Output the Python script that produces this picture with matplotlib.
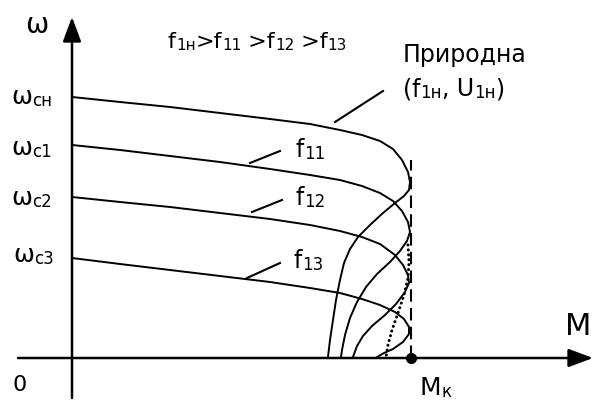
import matplotlib
matplotlib.use("Agg")
import matplotlib.pyplot as plt

plt.rcParams['font.family'] = ['DejaVu Sans']

# critical torque (same for every frequency)
M_k = 339

# mechanical characteristics, torque M vs speed w (arbitrary units)
w_1n = [261, 256, 251, 245, 239, 234, 228, 223, 217, 209, 198, 186, 176, 168,
        162, 155, 145, 133, 121, 109, 95, 78, 58, 38, 18, 1]
M_1n = [0, 48, 98, 148, 198, 238, 268, 290, 308, 321, 330, 336, 338, 337,
        332, 323, 311, 298, 286, 278, 272, 268, 264, 261, 258, 256]

w_11 = [213, 208, 202, 196, 189, 183, 178, 172, 165, 157, 147, 136, 126, 117,
        107, 96, 84, 71, 56, 40, 23, 8, 1]
M_11 = [0, 48, 98, 148, 198, 238, 268, 290, 308, 321, 330, 336, 338, 335,
        328, 318, 305, 294, 285, 278, 273, 270, 269]

w_12 = [161, 156, 151, 145, 139, 133, 127, 121, 114, 103, 93, 83, 75, 66,
        54, 43, 32, 22, 12, 1]
M_12 = [0, 48, 98, 148, 198, 238, 268, 290, 308, 323, 331, 336, 337, 333,
        324, 313, 300, 291, 285, 281]

w_13 = [100, 94, 88, 82, 76, 70, 65, 59, 53, 46, 39, 31, 24, 16, 9, 5, 1]
M_13 = [0, 48, 98, 148, 198, 238, 268, 290, 308, 323, 332, 337, 337, 331,
        321, 312, 305]

# low-frequency branch without compensation (dotted)
w_dot = [113, 96, 80, 63, 45, 28, 13, 1]
M_dot = [336, 337, 336, 332, 326, 320, 316, 314]

# leader lines from the labels to the curves
lead_nat = [(263, 311), (236, 267)]
lead_11 = [(178, 208), (195, 207)]
lead_12 = [(180, 210), (146, 158)]
lead_13 = [(175, 208), (80, 95)]

fig = plt.figure(figsize=(5.98, 4.0), dpi=100)
ax = fig.add_axes([0, 0, 1, 1])
ax.set_xlim(-72, 526)
ax.set_ylim(-42, 358)
ax.axis('off')
renderer = fig.canvas.get_renderer()

# axes with arrows
arrow = dict(arrowstyle='-|>,head_length=0.75,head_width=0.28', lw=1.8,
             color='black', shrinkA=0, shrinkB=0, mutation_scale=20)
ax.annotate('', xy=(0, 341), xytext=(0, -40), arrowprops=arrow)
ax.annotate('', xy=(521, 0), xytext=(-54, 0), arrowprops=arrow)

# characteristics
for M, w in [(M_1n, w_1n), (M_11, w_11), (M_12, w_12), (M_13, w_13)]:
    ax.plot(M, w, color='black', lw=1.4, solid_capstyle='round',
            solid_joinstyle='round')
ax.plot(M_dot, w_dot, color='black', lw=2.2, linestyle=(0, (0.01, 1.6)),
        dash_capstyle='round')

# critical torque line and point
ax.plot([M_k, M_k], [0, 198], color='black', lw=1.5, linestyle=(0, (6, 3)))
ax.plot([M_k], [0], 'o', color='black', markersize=7)

for xs, ys in [lead_nat, lead_11, lead_12, lead_13]:
    ax.plot(xs, ys, color='black', lw=1.5)


def sub_text(x, y, parts):
    # parts: (text, fontsize, lowered)
    cur = x
    for s, size, low in parts:
        t = ax.text(cur, y - (2 if low else 0), s, fontsize=size,
                    va='baseline', ha='left')
        bb = t.get_window_extent(renderer)
        cur = ax.transData.inverted().transform((bb.x1, bb.y0))[0]


sub_text(-47, 325, [('ω', 20, False)])
sub_text(-60, -33, [('0', 16, False)])
sub_text(-61, 254, [('ω', 18, False), ('сн', 12, True)])
sub_text(-61, 203, [('ω', 18, False), ('с1', 12, True)])
sub_text(-61, 153, [('ω', 18, False), ('с2', 12, True)])
sub_text(-59, 96, [('ω', 18, False), ('с3', 12, True)])

sub_text(96, 310, [('f', 16, False), ('1н', 11, True), ('>f', 16, False),
                   ('11', 11, True), (' >f', 16, False), ('12', 11, True),
                   (' >f', 16, False), ('13', 11, True)])

ax.text(331, 296, 'Природна', fontsize=17, va='baseline', ha='left')
sub_text(331, 262, [('(f', 17, False), ('1н', 12, True), (', U', 17, False),
                    ('1н', 12, True), (')', 17, False)])

sub_text(224, 201, [('f', 17, False), ('11', 12, True)])
sub_text(224, 153, [('f', 17, False), ('12', 12, True)])
sub_text(222, 90, [('f', 17, False), ('13', 12, True)])

sub_text(493, 23, [('M', 22, False)])
sub_text(348, -37, [('M', 18, False), ('к', 12, True)])

fig.savefig('out.png', dpi=100)
